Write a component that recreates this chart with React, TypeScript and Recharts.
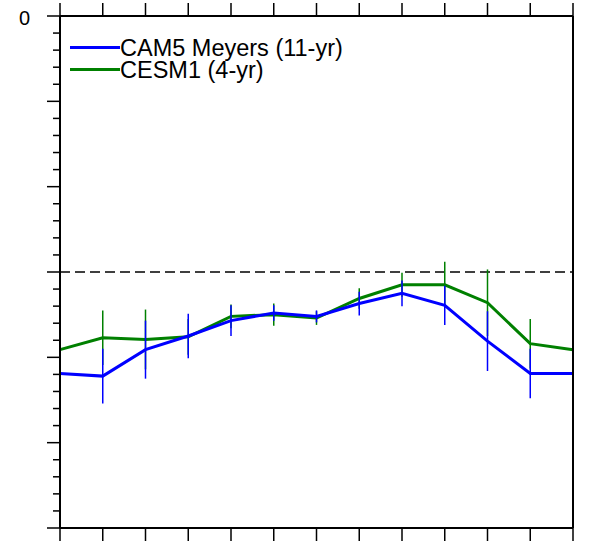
import { LineChart, Line, XAxis, YAxis, ErrorBar, ReferenceLine, Legend } from "recharts"

// 13 points along x (0..12)
const xPoints = [0, 1, 2, 3, 4, 5, 6, 7, 8, 9, 10, 11, 12]

const cam5Values = [-4.19, -4.22, -3.91, -3.75, -3.57, -3.48, -3.52, -3.37, -3.25, -3.39, -3.81, -4.19, -4.19]
const cam5Errors = [0.38, 0.32, 0.34, 0.26, 0.18, 0.09, 0.07, 0.14, 0.15, 0.23, 0.35, 0.29, 0.38]

const cesmValues = [-3.91, -3.77, -3.79, -3.76, -3.52, -3.5, -3.54, -3.31, -3.15, -3.15, -3.36, -3.84, -3.91]
const cesmErrors = [0.21, 0.32, 0.35, 0.21, 0.14, 0.13, 0.08, 0.12, 0.14, 0.27, 0.39, 0.29, 0.21]

const yLabels: Record<string, string> = { "0": "0" }
const refValue = -3

const BLUE = "#0000ff"
const GREEN = "#008000"
const FONT = "'Liberation Sans', Arial, Helvetica, sans-serif"

const data = xPoints.map((x, i) => ({
  x,
  cam5: cam5Values[i],
  cam5Err: cam5Errors[i],
  cesm: cesmValues[i],
  cesmErr: cesmErrors[i],
}))

// major every 1, minor every 0.2
const yTicks: number[] = []
for (let i = 0; i <= 30; i++) yTicks.push(-i / 5)

const isMajor = (v: number) => Math.abs(v - Math.round(v)) < 1e-6

const LeftTick = (props: any) => {
  const { x, y, payload } = props
  const v = payload.value
  const len = isMajor(v) ? 13 : 7
  const label = isMajor(v) ? yLabels[String(Math.round(v) === 0 ? 0 : Math.round(v))] : undefined
  return (
    <g>
      <line x1={x} x2={x - len} y1={y} y2={y} stroke="#000" strokeWidth={1.5} />
      {label && (
        <text x={x - 30} y={y + 9} textAnchor="end" fill="#000" fontSize={20} fontFamily={FONT}>
          {label}
        </text>
      )}
    </g>
  )
}

const RightTick = (props: any) => {
  const { x, y, payload } = props
  const len = isMajor(payload.value) ? 13 : 7
  return <line x1={x} x2={x + len} y1={y} y2={y} stroke="#000" strokeWidth={1.5} />
}

const BottomTick = (props: any) => {
  const { x, y } = props
  return <line x1={x} x2={x} y1={y} y2={y + 13} stroke="#000" strokeWidth={1.5} />
}

const TopTick = (props: any) => {
  const { x, y } = props
  return <line x1={x} x2={x} y1={y} y2={y - 13} stroke="#000" strokeWidth={1.5} />
}

const legendItems = [
  { name: "CAM5 Meyers (11-yr)", color: BLUE },
  { name: "CESM1 (4-yr)", color: GREEN },
]

const LegendBox = () => (
  <div style={{ fontFamily: FONT }}>
    {legendItems.map((it) => (
      <div key={it.name} style={{ display: "flex", alignItems: "center", height: 22.3 }}>
        <div style={{ width: 50, height: 3, background: it.color }} />
        <span style={{ fontSize: 23.5, lineHeight: "22px", color: "#000", whiteSpace: "nowrap" }}>{it.name}</span>
      </div>
    ))}
  </div>
)

export default function App() {
  return (
    <div style={{ position: "absolute", left: 0, top: 0, background: "#fff" }}>
      <LineChart width={592} height={543} data={data} margin={{ top: 0, right: 0, bottom: 0, left: 0 }}>
        <XAxis
          xAxisId="bottom"
          dataKey="x"
          type="number"
          domain={[0, 12]}
          ticks={xPoints}
          interval={0}
          height={15}
          tickSize={0}
          tickMargin={0}
          tick={<BottomTick />}
          axisLine={{ stroke: "#000", strokeWidth: 2 }}
          tickLine={false}
        />
        <XAxis
          xAxisId="top"
          orientation="top"
          dataKey="x"
          type="number"
          domain={[0, 12]}
          ticks={xPoints}
          interval={0}
          height={16}
          tickSize={0}
          tickMargin={0}
          tick={<TopTick />}
          axisLine={{ stroke: "#000", strokeWidth: 2 }}
          tickLine={false}
        />
        <YAxis
          yAxisId="left"
          type="number"
          domain={[-6, 0]}
          ticks={yTicks}
          interval={0}
          width={60}
          tickSize={0}
          tickMargin={0}
          tick={<LeftTick />}
          axisLine={{ stroke: "#000", strokeWidth: 2 }}
          tickLine={false}
        />
        <YAxis
          yAxisId="right"
          orientation="right"
          type="number"
          domain={[-6, 0]}
          ticks={yTicks}
          interval={0}
          width={19}
          tickSize={0}
          tickMargin={0}
          tick={<RightTick />}
          axisLine={{ stroke: "#000", strokeWidth: 2 }}
          tickLine={false}
        />
        <ReferenceLine
          xAxisId="bottom"
          yAxisId="left"
          y={refValue}
          stroke="#000"
          strokeWidth={1.5}
          strokeDasharray="10 5"
        />
        <Line
          xAxisId="bottom"
          yAxisId="left"
          dataKey="cesm"
          type="linear"
          stroke={GREEN}
          strokeWidth={3}
          dot={false}
          isAnimationActive={false}
        >
          <ErrorBar dataKey="cesmErr" width={0} stroke={GREEN} strokeWidth={1.5} direction="y" isAnimationActive={false} />
        </Line>
        <Line
          xAxisId="bottom"
          yAxisId="left"
          dataKey="cam5"
          type="linear"
          stroke={BLUE}
          strokeWidth={3}
          dot={false}
          isAnimationActive={false}
        >
          <ErrorBar dataKey="cam5Err" width={0} stroke={BLUE} strokeWidth={1.5} direction="y" isAnimationActive={false} />
        </Line>
        <Legend
          layout="horizontal"
          verticalAlign="middle"
          align="center"
          content={<LegendBox />}
          wrapperStyle={{ position: "absolute", top: 36.5, left: 70, width: "auto" }}
        />
      </LineChart>
    </div>
  )
}
